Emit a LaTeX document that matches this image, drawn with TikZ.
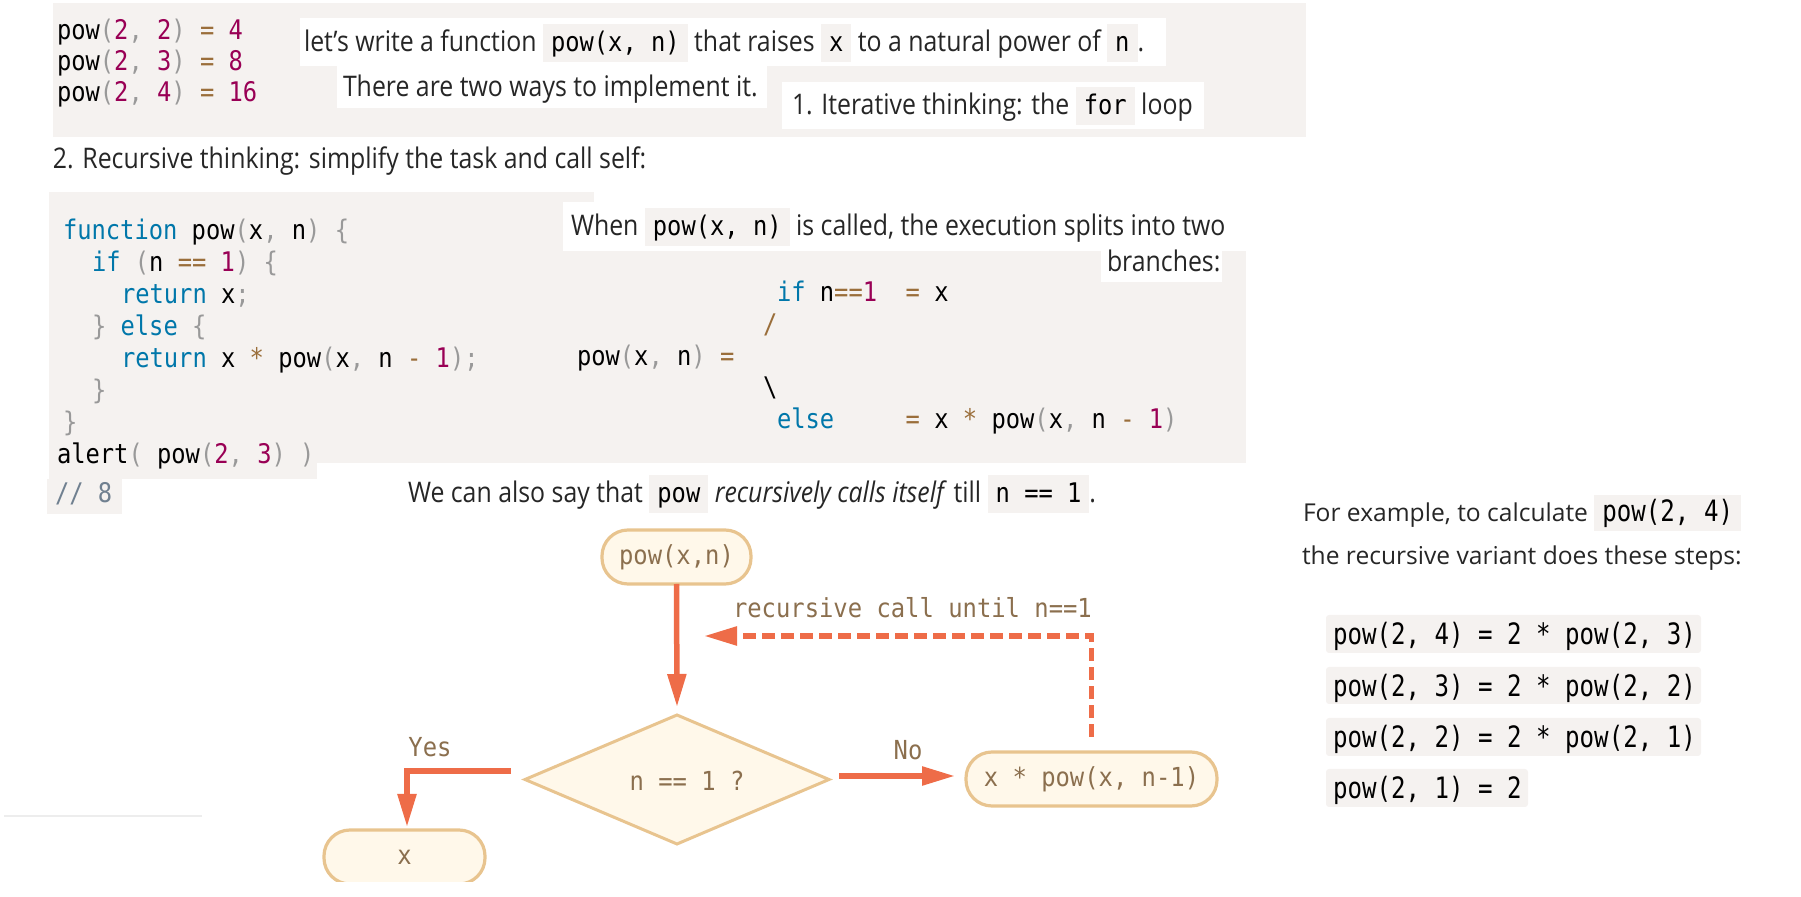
\documentclass[tikz,border=0pt]{standalone}
\usepackage{fontspec}
\usetikzlibrary{arrows.meta,shapes.geometric}
\setmainfont{Open Sans}
\newfontfamily\prosefont[FakeStretch=0.875]{Open Sans}
\newfontfamily\rprosefont{Open Sans}
\newfontfamily\codefont[FakeStretch=0.88]{DejaVu Sans Mono}
\newfontfamily\rcodefont[FakeStretch=0.82]{DejaVu Sans Mono}
\newfontfamily\flowfont[FakeStretch=0.91]{DejaVu Sans Mono}
\definecolor{codebg}{HTML}{F5F2F0}
\definecolor{kwc}{HTML}{0077AA}
\definecolor{numc}{HTML}{990055}
\definecolor{punc}{HTML}{999999}
\definecolor{opc}{HTML}{9A6E3A}
\definecolor{comc}{HTML}{708090}
\definecolor{prosec}{HTML}{262626}
\definecolor{fstroke}{HTML}{E8C48F}
\definecolor{ffill}{HTML}{FFF8EA}
\definecolor{ftext}{HTML}{8B6F4E}
\definecolor{arrc}{HTML}{EE6C48}
\newcommand\kw[1]{\textcolor{kwc}{#1}}
\newcommand\nm[1]{\textcolor{numc}{#1}}
\newcommand\pu[1]{\textcolor{punc}{#1}}
\newcommand\op[1]{\textcolor{opc}{#1}}
\newcommand\ic[1]{{\setlength{\fboxsep}{0pt}\colorbox{codebg}{\rule[-5pt]{0pt}{19pt}\hspace{4pt}{\fontsize{13.5pt}{16pt}\codefont\color{black}#1}\hspace{4pt}}}}
\newcommand\icr[1]{{\setlength{\fboxsep}{0pt}\colorbox{codebg}{\rule[-4.5pt]{0pt}{18pt}\hspace{4pt}{\rcodefont\fontsize{14.7pt}{17pt}\selectfont\color{black}#1}\hspace{4pt}}}}
\tikzset{
  code/.style={anchor=base west, inner sep=0, outer sep=0, text=black, font=\fontsize{13.5pt}{16pt}\codefont},
  rcode/.style={anchor=base west, inner sep=0, outer sep=0, text=black, font=\fontsize{14.7pt}{17pt}\rcodefont},
  prose/.style={anchor=base west, inner sep=0, outer sep=0, text=prosec, font=\fontsize{14.2pt}{16pt}\prosefont},
  rprose/.style={anchor=base west, inner sep=0, outer sep=0, text=prosec, font=\fontsize{12.3pt}{15pt}\rprosefont},
  fnode/.style={draw=fstroke, fill=ffill, line width=1.6pt, rounded corners=13pt, minimum height=27pt, inner sep=0, outer sep=0, text=ftext, font=\fontsize{13.1pt}{15pt}\flowfont},
  ftxt/.style={inner sep=0, outer sep=0, text=ftext, font=\fontsize{13.1pt}{15pt}\flowfont},
  arr/.style={draw=arrc, line width=2.75pt, line join=miter, -{Triangle[length=16.5pt,width=9pt]}},
  dasharr/.style={arr, dash pattern=on 6.5pt off 3pt},
}
\begin{document}
\begin{tikzpicture}[x=0.5pt,y=-0.5pt]
\useasboundingbox (0,0) rectangle (1801,897);
% ---------- top box ----------
\fill[codebg] (53,3) rectangle (1306,137);
\node[code] (t1) at (57,40) {pow\pu{(}\nm{2}\pu{,} \nm{2}\pu{)} \op{=} \nm{4}};
\node[code] (t2) at (57,71) {pow\pu{(}\nm{2}\pu{,} \nm{3}\pu{)} \op{=} \nm{8}};
\node[code] (t3) at (57,102) {pow\pu{(}\nm{2}\pu{,} \nm{4}\pu{)} \op{=} \nm{16}};
\fill[white] (300,18) rectangle (1166,66);
\fill[white] (337,66) rectangle (767,108);
\fill[white] (782,82) rectangle (1204,129);
\node[prose] (l1) at (304,52) {let’s write a function \ic{pow(x, n)} that raises \ic{x} to a natural power of \ic{n}.};
\node[prose] (l2) at (343,97) {There are two ways to implement it.};
\node[prose] (l3) at (792,115) {1. Iterative thinking: the \ic{for} loop};
\node[prose] (l4) at (53,169) {2. Recursive thinking: simplify the task and call self:};
% ---------- code block ----------
\fill[codebg] (49,192) rectangle (594,463);
\fill[codebg] (563,202) rectangle (1246,463);
\fill[codebg] (49,463) rectangle (317,479);
\fill[codebg] (47,479) rectangle (122,514);
\fill[white] (563,202) rectangle (1246,251);
\fill[white] (1101,251) rectangle (1222,282);
\node[code] (c1) at (63,240) {\kw{function} pow\pu{(}x\pu{,} n\pu{)} \pu{\{}};
\node[code] (c2) at (92,272) {\kw{if} \pu{(}n \op{==} \nm{1}\pu{)} \pu{\{}};
\node[code] (c3) at (121,304) {\kw{return} x\pu{;}};
\node[code] (c4) at (92,336) {\pu{\}} \kw{else} \pu{\{}};
\node[code] (c5) at (121,368) {\kw{return} x \op{*} pow\pu{(}x\pu{,} n \op{-} \nm{1}\pu{);}};
\node[code] (c6) at (92,400) {\pu{\}}};
\node[code] (c7) at (63,432) {\pu{\}}};
\node[code] (c8) at (57,464) {alert\pu{(} pow\pu{(}\nm{2}\pu{,} \nm{3}\pu{)} \pu{)}};
\node[code] (c9) at (55,503) {\textcolor{comc}{// 8}};
% branches
\node[prose] (w1) at (571,236) {When \ic{pow(x, n)} is called, the execution splits into two};
\node[prose] (w2) at (1107,272) {branches:};
\node[code] (b1) at (777,302) {\kw{if} n\op{==}\nm{1}~~\op{=} x};
\node[code] (b2) at (763,334) {\op{/}};
\node[code] (b3) at (577,365.5) {pow\pu{(}x\pu{,} n\pu{)} \op{=}};
\node[code] (b4) at (763,397) {\textbackslash};
\node[code] (b5) at (777,429) {\kw{else}~~~~~\op{=} x \op{*} pow\pu{(}x\pu{,} n \op{-} \nm{1}\pu{)}};
\node[prose] (s1) at (408,503) {We can also say that \ic{pow} \textit{recursively calls itself} till \ic{n == 1}.};
% ---------- flowchart ----------
\begin{scope}
\clip (0,0) rectangle (1801,882);
\node[fnode, minimum width=74.5pt] (pw) at (676.5,557) {pow(x,n)};
\node[draw=fstroke, fill=ffill, line width=1.5pt, diamond, minimum width=152pt, minimum height=64.5pt, inner sep=0, outer sep=0] (dia) at (677,779.5) {};
\node[ftxt] (diat) at (687,781) {n == 1 ?};
\node[fnode, minimum width=125.5pt] (xp) at (1091.5,779) {x * pow(x, n-1)};
\node[fnode, minimum width=80.5pt] (xn) at (404.5,857) {x};
\end{scope}
\coordinate (dtip) at (704,636);
\draw[arr] (pw.south) -- ([shift={(0,-8)}]dia.north);
\draw[arr] ([shift={(10,-3.5)}]dia.east) -- ([shift={(-11,-3)}]xp.west);
\draw[arr] ([shift={(-14,-8.5)}]dia.west) -| ([shift={(2.5,-3)}]xn.north);
\draw[dasharr] ([shift={(0,-15)}]xp.north) |- (dtip);
\node[ftxt] (lyes) at (430,747) {Yes};
\node[ftxt] (lno) at (908,750) {No};
\node[ftxt, anchor=base west] (lrec) at (733,618) {recursive call until n==1};
\draw[line width=0.75pt, color=black!7] (4,816) -- (202,816);
% ---------- right panel ----------
\node[rprose] (r1) at (1303,522) {For example, to calculate \icr{pow(2, 4)}};
\node[rprose] (r2) at (1302,565) {the recursive variant does these steps:};
\fill[codebg, rounded corners=1.5pt] (1326,615) rectangle (1701,653);
\fill[codebg, rounded corners=1.5pt] (1326,667) rectangle (1701,704);
\fill[codebg, rounded corners=1.5pt] (1326,718) rectangle (1701,756);
\fill[codebg, rounded corners=1.5pt] (1326,769) rectangle (1528,807);
\node[rcode] (p1) at (1333,645) {pow(2, 4) = 2 * pow(2, 3)};
\node[rcode] (p2) at (1333,697) {pow(2, 3) = 2 * pow(2, 2)};
\node[rcode] (p3) at (1333,748) {pow(2, 2) = 2 * pow(2, 1)};
\node[rcode] (p4) at (1333,799) {pow(2, 1) = 2};
\end{tikzpicture}
\end{document}
